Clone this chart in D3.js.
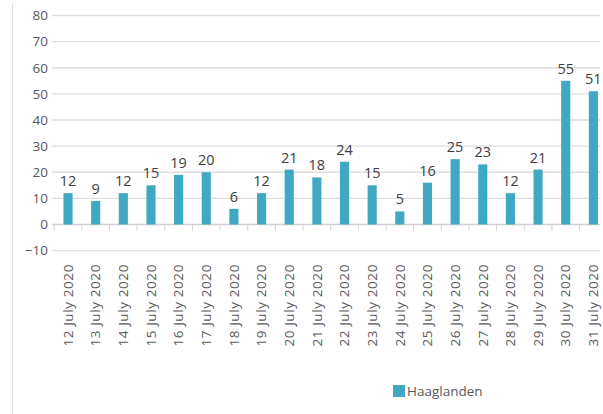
<!DOCTYPE html>
<html>
<head>
<meta charset="utf-8">
<script src="https://cdn.jsdelivr.net/npm/d3@7"></script>
<style>
  html, body { margin: 0; padding: 0; background: #fff; }
  svg { display: block; }
  text { font-family: "Open Sans", "Noto Sans", sans-serif; }
</style>
</head>
<body>
<svg id="chart" width="603" height="414"></svg>
<script>
const categories = ["12 July 2020","13 July 2020","14 July 2020","15 July 2020","16 July 2020","17 July 2020","18 July 2020","19 July 2020","20 July 2020","21 July 2020","22 July 2020","23 July 2020","24 July 2020","25 July 2020","26 July 2020","27 July 2020","28 July 2020","29 July 2020","30 July 2020","31 July 2020"];
const values = [12, 9, 12, 15, 19, 20, 6, 12, 21, 18, 24, 15, 5, 16, 25, 23, 12, 21, 55, 51];
const yTicks = [-10, 0, 10, 20, 30, 40, 50, 60, 70, 80];
const seriesName = "Haaglanden";

const svg = d3.select("#chart");
const barColor = "#41a8c4";
const gridColor = "#dedede";
const textColor = "#595959";

const x = d3.scaleBand().domain(categories).range([54.2, 607.2]).paddingInner(0.67).paddingOuter(0.335);
const y = d3.scaleLinear().domain([-10, 80]).range([250.6, 15.5]);

// outer border line on the left
svg.append("line").attr("x1", 12.5).attr("x2", 12.5).attr("y1", 3).attr("y2", 414)
  .attr("stroke", "#e0e0e0").attr("stroke-width", 1);

// gridlines
svg.append("g").selectAll("line").data(yTicks.filter(d => d !== 0)).join("line")
  .attr("x1", 52).attr("x2", 600)
  .attr("y1", d => y(d)).attr("y2", d => y(d))
  .attr("stroke", gridColor).attr("stroke-width", 1.3);

// y axis labels
const yAxis = d3.axisLeft(y).tickValues(yTicks).tickSize(0).tickPadding(0).tickFormat(d3.format("d"));
const gy = svg.append("g").attr("transform", "translate(48,0)").call(yAxis);
gy.select(".domain").remove();
gy.selectAll("text").attr("fill", textColor).style("font-size", "13.5px")
  .style("font-family", "'Open Sans', sans-serif");

// zero axis line
svg.append("line").attr("x1", 52).attr("x2", 600).attr("y1", y(0)).attr("y2", y(0))
  .attr("stroke", "#d0d0d0").attr("stroke-width", 1.3);

// tick marks at band boundaries
const bounds = categories.map(c => x(c) - x.step() * x.paddingInner() / 2);
bounds.push(x(categories[categories.length - 1]) + x.bandwidth() + x.step() * x.paddingInner() / 2);
svg.append("g").selectAll("line").data(bounds).join("line")
  .attr("x1", d => d).attr("x2", d => d)
  .attr("y1", y(0)).attr("y2", y(0) + 6)
  .attr("stroke", "#d0d0d0").attr("stroke-width", 1);

// bars
svg.append("g").selectAll("rect").data(values).join("rect")
  .attr("x", (d, i) => x(categories[i]))
  .attr("width", x.bandwidth())
  .attr("y", d => y(d))
  .attr("height", d => y(0) - y(d))
  .attr("fill", barColor);

// data labels
svg.append("g").selectAll("text").data(values).join("text")
  .attr("x", (d, i) => x(categories[i]) + x.bandwidth() / 2)
  .attr("y", d => y(d) - 7)
  .attr("text-anchor", "middle")
  .attr("fill", "#404040")
  .style("font-size", "14.5px")
  .text(d => d);

// x labels, rotated
const xAxis = d3.axisBottom(x).tickSize(0).tickPadding(0);
const gx = svg.append("g").attr("transform", "translate(0,264)").call(xAxis);
gx.select(".domain").remove();
gx.selectAll("text")
  .attr("transform", "rotate(-90)")
  .attr("x", 0).attr("y", 0).attr("dy", "0.35em")
  .attr("text-anchor", "end")
  .attr("fill", textColor)
  .style("font-size", "13.5px")
  .style("letter-spacing", "0.6px")
  .style("font-family", "'Open Sans', sans-serif");

// legend
const leg = svg.append("g").attr("transform", "translate(393,385)");
leg.append("rect").attr("width", 12).attr("height", 12).attr("fill", barColor);
leg.append("text").attr("x", 14).attr("y", 6).attr("dy", "0.35em")
  .attr("fill", textColor).style("font-size", "13.5px").text(seriesName);
</script>
</body>
</html>
